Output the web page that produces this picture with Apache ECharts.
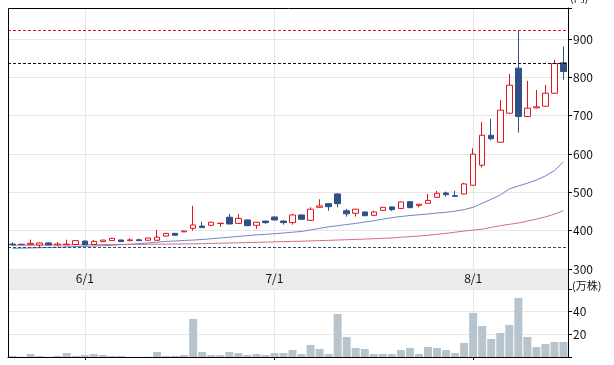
<!DOCTYPE html>
<html><head><meta charset="utf-8">
<script src="https://cdn.jsdelivr.net/npm/echarts@6/dist/echarts.min.js"></script>
<style>html,body{margin:0;padding:0;background:#fff}#c{width:614px;height:365px}</style>
</head><body><div id="c"></div>
<script>
// Trading days (2025)
const dates = ['5/21','5/22','5/23','5/26','5/27','5/28','5/29','5/30',
 '6/2','6/3','6/4','6/5','6/6','6/9','6/10','6/11','6/12','6/13','6/16','6/17','6/18','6/19','6/20','6/23','6/24','6/25','6/26','6/27','6/30',
 '7/1','7/2','7/3','7/4','7/7','7/8','7/9','7/10','7/11','7/14','7/15','7/16','7/17','7/18','7/22','7/23','7/24','7/25','7/28','7/29','7/30','7/31',
 '8/1','8/4','8/5','8/6','8/7','8/8','8/12','8/13','8/14','8/15','8/18'];
const opens = [365,364.5,363.6,362.7,368,362.7,363,364,373,364,371.5,374,375.7,374,376,375,375,386,393,397,406,412,414,418.5,435,419,428,414,425,435.7,425,421,441,427,461,470.5,495.8,452,445.4,448.8,440,453,462,458,475.7,466,471.5,487,498.4,491.4,495.8,518.5,570.8,649,630.8,706.5,824,697.7,720.4,724.8,758.7,838];
const closes = [363,363.5,367,368,362.7,365,365,374,363,372,375.5,380,371.5,376,374,381,383,393,388,399,415,408,422,419.5,417.5,432,413,422,421,428,421,441,429.7,456,464.5,462.6,470.5,444,456,439,448.8,461,454.8,475,460,469,479,497.6,494,489.6,522,599.5,649,640,714.4,779.6,697.7,719.6,723,758.7,836,815.2];
const lows = [361,363,363,357,362,362,362,363,362,363,371,373.5,371,373,373,374.5,374,385,387,396,400,407,413,410,416,418,412,405,418,427,415.7,415.7,429,426,460,452,461,436.5,436.5,438,439,452,451,457,459,461,471,486,488.8,489,495,518,564.5,636,629,705,656,697,719,724,758,793.5];
const highs = [370,365,376.5,369,369,370,376.5,375,374,376,376,381,376,380,379,381.5,402,394,394,400,465,423.5,423,420,443.6,443.6,429,423,426,437,427,444,442,461,482,471,497.6,456.6,457,449.5,452,462,463,476,476.5,469.5,495.8,503.7,501.8,503.7,525,615,683.8,691.6,741,809,923,790.9,767.4,780.4,845.7,880.4];
// volume (万株)
const volumes = [1,0.2,2.7,1,0.2,1,3.5,1,1.8,2.7,1.8,1,1,0.2,0.2,0.2,4.4,1,1,1.8,33.6,4.4,1.8,1.8,4.4,3.5,1.8,2.7,1.8,3.5,3.5,6.2,2.7,10.6,7.1,2.7,38,17.7,8,7.1,2.7,2.7,2.7,6.2,8,2.7,8.8,8,6.2,3.5,12.4,38.9,27.4,15.9,21.2,28.3,52.2,17.7,8.8,11.5,13.3,13.3];
// moving averages
const maShort = [354,354.5,355,355.5,356,357,357.5,358.5,359,360,361,362,363.5,364.5,366,368,370,372,373,374.5,375.5,377,379,381,383,385,387,389,390.5,392,394,396,398,402,406,410,413,416,419,422.5,426,430,434,437,439.5,441.5,443.5,446,448,451,455,461,471.5,482,493,509,516.7,523.7,532,542.8,556.7,580];
const maLong = [362,362.2,362.4,362.6,362.8,363,363.1,363.2,363.4,363.5,363.6,363.8,364,364.2,364.4,364.6,364.8,365,365.2,365.4,365.6,366,366.6,367.2,367.8,368.4,369,369.6,370.2,370.8,371.4,372,372.6,373.3,374,374.8,375.6,376.4,377.2,378,379,380,381,383,384.5,386,388,390.5,393,396,399,401.5,404,408.5,413,416.5,420,425,430,436,443,452];
// reference levels: period high, previous close, period low
const refLevels = [923, 836, 357];
const refColors = ['#d8161c', '#111111', '#2b4a7a'];

const candleData = opens.map((o, i) => [o, closes[i], lows[i], highs[i]]);
const monthStarts = dates.map((d, i) => (i > 0 && d.split('/')[0] !== dates[i - 1].split('/')[0]) ? i : -1).filter(i => i >= 0);
const isMonthStart = (i) => monthStarts.indexOf(i) >= 0;
const FONT = 'Noto Sans CJK JP';
const GRIDC = '#e6e6e6';

const chart = echarts.init(document.getElementById('c'), null, {renderer: 'canvas'});
chart.setOption({
  animation: false,
  backgroundColor: '#fff',
  textStyle: {fontFamily: FONT},
  grid: [
    {left: 8, right: 46, top: 8, height: 261, outerBoundsMode: 'none', containLabel: false},
    {left: 8, right: 46, top: 269, height: 20, show: true, backgroundColor: '#ebebeb', borderWidth: 0, outerBoundsMode: 'none', containLabel: false},
    {left: 8, right: 46, top: 289, height: 68, outerBoundsMode: 'none', containLabel: false}
  ],
  xAxis: [
    {gridIndex: 0, type: 'category', data: dates, boundaryGap: true,
     axisLine: {show: false}, axisTick: {show: false}, axisLabel: {show: false}, splitLine: {show: false}},
    {gridIndex: 1, type: 'category', data: dates, boundaryGap: true, position: 'top', z: 10,
     axisLine: {show: false}, axisTick: {show: false}, splitLine: {show: false},
     axisLabel: {show: true, inside: true, margin: 3, interval: (i) => isMonthStart(i),
       formatter: (v) => v.split('/')[0] + '/1', color: '#111', fontSize: 12, fontFamily: FONT}},
    {gridIndex: 2, type: 'category', data: dates, boundaryGap: true,
     axisLine: {show: true, lineStyle: {color: '#000', width: 1}},
     axisTick: {show: true, alignWithLabel: true, length: 3, interval: (i) => isMonthStart(i), lineStyle: {color: '#000'}},
     axisLabel: {show: false}, splitLine: {show: false}}
  ],
  yAxis: [
    {gridIndex: 0, type: 'value', position: 'right', min: 300, max: 981, interval: 100, scale: false,
     name: '(円)', nameLocation: 'end', nameGap: 10,
     nameTextStyle: {align: 'left', verticalAlign: 'middle', padding: [0, 0, 0, 2], fontSize: 11, color: '#111', fontFamily: FONT},
     axisLine: {show: true, lineStyle: {color: '#000', width: 1}},
     axisTick: {show: true, length: 4, lineStyle: {color: '#000'}},
     axisLabel: {margin: 5, color: '#111', fontSize: 12, fontFamily: FONT, formatter: (v) => (v % 100 === 0 ? String(v) : '')},
     splitLine: {show: true, lineStyle: {color: GRIDC, width: 1}}},
    {gridIndex: 1, type: 'value', show: false},
    {gridIndex: 2, type: 'value', position: 'right', min: 0, max: 60, interval: 20,
     name: '(万株)', nameLocation: 'end', nameGap: 3,
     nameTextStyle: {align: 'left', verticalAlign: 'middle', padding: [0, 0, 0, 4], fontSize: 11, color: '#111', fontFamily: FONT},
     axisLine: {show: true, lineStyle: {color: '#000', width: 1}},
     axisTick: {show: true, length: 4, lineStyle: {color: '#000'}},
     axisLabel: {margin: 5, color: '#111', fontSize: 12, fontFamily: FONT, formatter: (v) => ((v === 0 || v === 60) ? '' : String(v))},
     splitLine: {show: true, lineStyle: {color: GRIDC, width: 1}}}
  ],
  graphic: [
    {type: 'polyline', z: 100, silent: true,
     shape: {points: [[8.5, 357], [8.5, 8.5], [568.5, 8.5], [568.5, 357]]},
     style: {stroke: '#000', lineWidth: 1, fill: null}}
  ],
  series: [
    {type: 'line', name: 'MA25', xAxisIndex: 0, yAxisIndex: 0, data: maShort, symbol: 'none', z: 2,
     lineStyle: {color: '#6f84c6', width: 1}, silent: true,
     markLine: {silent: true, symbol: 'none', z: 1, label: {show: false},
       lineStyle: {color: GRIDC, type: 'solid', width: 1},
       data: monthStarts.map(i => ({xAxis: i}))}},
    {type: 'line', name: 'MA75', xAxisIndex: 0, yAxisIndex: 0, data: maLong, symbol: 'none', z: 2,
     lineStyle: {color: '#d76f80', width: 1}, silent: true},
    {type: 'candlestick', xAxisIndex: 0, yAxisIndex: 0, data: candleData, barWidth: 6, z: 3,
     itemStyle: {color: '#ffffff', color0: '#2f5183', borderColor: '#e3141b', borderColor0: '#2f5183', borderWidth: 1},
     markLine: {silent: true, symbol: 'none', label: {show: false},
       data: refLevels.map((v, i) => ({yAxis: v, lineStyle: {color: refColors[i], type: [3, 2], width: 1}}))}},
    {type: 'bar', xAxisIndex: 2, yAxisIndex: 2, data: volumes, barWidth: 8, z: 2,
     itemStyle: {color: '#b8c4cd'}, silent: true,
     markLine: {silent: true, symbol: 'none', z: 1, label: {show: false},
       lineStyle: {color: GRIDC, type: 'solid', width: 1},
       data: monthStarts.map(i => ({xAxis: i}))}}
  ]
});
</script>
</body></html>
